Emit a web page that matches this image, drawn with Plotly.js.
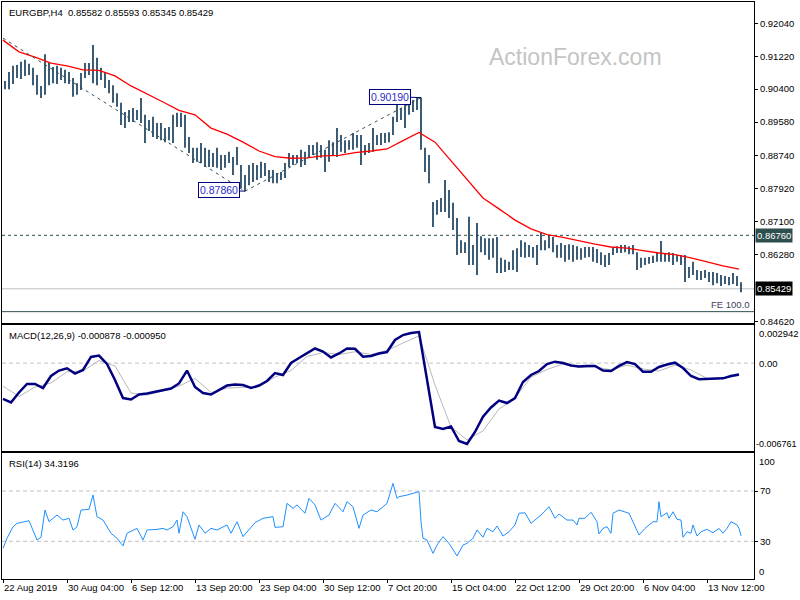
<!DOCTYPE html>
<html><head><meta charset="utf-8">
<script src="https://cdn.plot.ly/plotly-3.0.1.min.js"></script>
<style>html,body{margin:0;padding:0;background:#fff;}#chart{width:800px;height:600px;}</style>
</head><body><div id="chart"></div>
<script>
// ---- time axis (bar index of each label, H4 bars) ----
const timeLabels = ["22 Aug 2019","30 Aug 04:00","6 Sep 12:00","13 Sep 20:00","23 Sep 04:00","30 Sep 12:00","7 Oct 20:00","15 Oct 04:00","22 Oct 12:00","29 Oct 20:00","6 Nov 04:00","13 Nov 12:00"];
const timeLabelBars = [0,32,64,96,128,160,192,224,256,288,320,352];

// ---- price bars (every 2nd H4 bar, starting at bar 1) ----
const BAR_START = 1, BAR_STEP = 2;
const barHighs = [
0.9060,0.9083,0.9098,0.9100,0.9108,0.9113,0.9103,0.9093,0.9075,0.9048,
0.9127,0.9105,0.9095,0.9098,0.9093,0.9088,0.9083,0.9068,0.9055,0.9080,
0.9105,0.9105,0.9150,0.9118,0.9093,0.9083,0.9063,0.9050,0.9030,0.9006,
0.8983,0.8988,0.8993,0.8988,0.9018,0.8976,0.8963,0.8971,0.8956,0.8956,
0.8943,0.8946,0.8976,0.8981,0.8981,0.8976,0.8921,0.8894,0.8894,0.8906,
0.8894,0.8889,0.8881,0.8894,0.8876,0.8876,0.8884,0.8871,0.8896,0.8851,
0.8826,0.8851,0.8856,0.8851,0.8859,0.8856,0.8839,0.8839,0.8831,0.8834,
0.8856,0.8881,0.8876,0.8876,0.8889,0.8884,0.8901,0.8901,0.8908,0.8901,
0.8889,0.8913,0.8908,0.8943,0.8926,0.8913,0.8913,0.8931,0.8926,0.8926,
0.8901,0.8906,0.8943,0.8926,0.8931,0.8931,0.8933,0.8971,0.9006,0.8993,
0.9006,0.9008,0.9013,0.9018,0.9019,0.8894,0.8876,0.8759,0.8764,0.8769,
0.8814,0.8789,0.8757,0.8719,0.8664,0.8659,0.8722,0.8652,0.8707,0.8674,
0.8669,0.8669,0.8669,0.8672,0.8620,0.8615,0.8610,0.8639,0.8644,0.8664,
0.8659,0.8652,0.8647,0.8652,0.8682,0.8664,0.8677,0.8672,0.8652,0.8657,
0.8652,0.8654,0.8652,0.8649,0.8644,0.8647,0.8647,0.8647,0.8642,0.8634,
0.8627,0.8632,0.8647,0.8649,0.8652,0.8652,0.8649,0.8652,0.8634,0.8620,
0.8620,0.8622,0.8625,0.8632,0.8662,0.8632,0.8634,0.8632,0.8627,0.8627,
0.8627,0.8597,0.8610,0.8590,0.8587,0.8590,0.8585,0.8585,0.8582,0.8577,
0.8575,0.8572,0.8582,0.8575,0.85593];
const barLows = [
0.9040,0.9040,0.9053,0.9068,0.9065,0.9073,0.9075,0.9050,0.9026,0.9018,
0.9026,0.9050,0.9055,0.9053,0.9063,0.9055,0.9053,0.9021,0.9026,0.9038,
0.9068,0.9075,0.9055,0.9050,0.9063,0.9043,0.9030,0.9006,0.8996,0.8951,
0.8943,0.8958,0.8958,0.8963,0.8956,0.8906,0.8936,0.8921,0.8916,0.8913,
0.8908,0.8913,0.8906,0.8946,0.8946,0.8894,0.8881,0.8856,0.8859,0.8856,
0.8846,0.8846,0.8846,0.8844,0.8839,0.8844,0.8856,0.8826,0.8851,0.8794,
0.8786,0.8801,0.8809,0.8814,0.8819,0.8824,0.8809,0.8806,0.8806,0.8814,
0.8819,0.8846,0.8851,0.8856,0.8846,0.8851,0.8871,0.8876,0.8864,0.8869,
0.8834,0.8859,0.8876,0.8871,0.8884,0.8881,0.8889,0.8889,0.8894,0.8851,
0.8876,0.8881,0.8884,0.8901,0.8901,0.8906,0.8908,0.8926,0.8958,0.8963,
0.8943,0.8976,0.8983,0.8988,0.8889,0.8834,0.8806,0.8697,0.8727,0.8734,
0.8734,0.8719,0.8689,0.8627,0.8632,0.8632,0.8602,0.8602,0.8577,0.8634,
0.8627,0.8615,0.8620,0.8582,0.8582,0.8585,0.8590,0.8590,0.8585,0.8622,
0.8620,0.8622,0.8620,0.8602,0.8639,0.8639,0.8644,0.8634,0.8620,0.8620,
0.8610,0.8615,0.8610,0.8615,0.8615,0.8620,0.8622,0.8610,0.8607,0.8602,
0.8597,0.8602,0.8627,0.8632,0.8632,0.8634,0.8629,0.8629,0.8590,0.8595,
0.8602,0.8605,0.8607,0.8610,0.8610,0.8610,0.8610,0.8602,0.8610,0.8602,
0.8560,0.8570,0.8577,0.8565,0.8565,0.8570,0.8560,0.8552,0.8557,0.8550,
0.8555,0.8552,0.8555,0.8550,0.85345];

// ---- moving average (every 8 bars) ----
const MA_STEP = 8;
const maValues = [0.9162,0.9133,0.9120,0.9105,0.9098,0.9088,0.9087,0.9073,0.9048,0.9029,
0.9008,0.8987,0.8976,0.8943,0.8928,0.8908,0.8886,0.8872,0.8868,0.8869,
0.8874,0.8875,0.8882,0.8886,0.8891,0.8912,0.8932,0.8908,0.8861,0.8816,
0.8769,0.8742,0.8714,0.8692,0.8678,0.8671,0.8662,0.8654,0.8647,0.8644,
0.8638,0.8632,0.8628,0.8620,0.8610,0.8600,0.8592];

// ---- trend lines and swing labels ----
const trend1Bars = [0,121], trend1Prices = [0.9167,0.8786];
const trend2Bars = [121,209], trend2Prices = [0.8786,0.9019];
const swingBars = [121,209], swingPrices = [0.8786,0.9019], swingText = ["0.87860","0.90190"];
const levelDashed = 0.8676, currentPrice = 0.85429, feLevel = 0.8486;
const priceTicks = [0.92040,0.91220,0.90400,0.89580,0.88740,0.87920,0.87100,0.86280,0.84620];
const priceRange = [0.84585,0.92570];

// ---- MACD (main every 4 bars, signal every 8 bars) ----
const MACD_STEP = 4, SIGNAL_STEP = 8;
const macdMain = [-0.00275,-0.00302,-0.00225,-0.00160,-0.00160,-0.00191,-0.00099,-0.00057,-0.00040,-0.00080,
-0.00053,0.00047,0.00058,-0.00007,-0.00130,-0.00268,-0.00279,-0.00241,-0.00233,-0.00222,
-0.00206,-0.00195,-0.00156,-0.00057,-0.00183,-0.00229,-0.00241,-0.00206,-0.00172,-0.00164,
-0.00168,-0.00191,-0.00172,-0.00137,-0.00076,-0.00091,0.00001,0.00039,0.00074,0.00112,
0.00089,0.00043,0.00074,0.00112,0.00110,0.00049,0.00054,0.00074,0.00085,0.00177,
0.00215,0.00231,0.00238,-0.00130,-0.00490,-0.00505,-0.00486,-0.00597,-0.00620,-0.00528,
-0.00411,-0.00340,-0.00287,-0.00306,-0.00268,-0.00145,-0.00091,-0.00061,-0.00007,0.00011,
0.00001,-0.00018,-0.00026,-0.00022,-0.00022,-0.00057,-0.00061,-0.00022,0.00008,-0.00007,
-0.00066,-0.00066,-0.00030,-0.00011,0.00003,-0.00038,-0.00099,-0.00124,-0.00120,-0.00117,
-0.00117,-0.00099,-0.00088];
const macdSignal = [-0.00176,-0.00256,-0.00183,-0.00153,-0.00066,-0.00061,0.00020,-0.00022,-0.00229,-0.00245,
-0.00214,-0.00176,-0.00118,-0.00225,-0.00191,-0.00185,-0.00181,-0.00107,-0.00057,0.00051,
0.00081,0.00066,0.00087,0.00066,0.00097,0.00154,0.00208,-0.00168,-0.00490,-0.00589,
-0.00520,-0.00352,-0.00268,-0.00107,-0.00049,-0.00007,-0.00032,-0.00028,-0.00053,-0.00015,
-0.00045,-0.00061,-0.00015,-0.00053,-0.00117,-0.00117,-0.00095];
const macdRange = [-0.006761,0.002942];

// ---- RSI(14) ----
const rsiBars = [0,2,5,7,13,17,19,21,23,27,30,33,35,37,39,43,45,47,50,54,57,60,62,65,67,70,72,77,80,82,85,87,88,90,92,96,98,101,104,107,112,114,117,120,122,126,130,135,136,140,142,145,147,151,153,156,159,163,166,170,172,175,178,180,184,187,192,195,197,198,202,205,208,209,210,212,215,217,220,223,227,230,232,235,237,240,242,245,247,250,253,256,258,261,264,267,269,273,276,278,282,285,287,288,291,294,297,298,300,302,304,305,308,313,315,318,321,325,327,328,329,332,333,335,337,339,340,342,344,345,347,349,352,355,358,360,362,364,367,368,369];
const rsiValues = [24.4,32.4,41.6,44.3,46.4,31.0,33.2,54.9,45.6,50.9,46.9,48.3,39.0,41.6,54.9,55.4,66.8,49.6,46.9,36.4,32.4,26.3,36.4,38.4,40.3,31.0,39.0,39.5,40.3,39.0,41.6,46.9,36.4,53.5,49.6,31.6,43.0,36.4,40.3,39.0,43.0,36.4,45.6,33.7,37.6,44.8,48.3,49.6,41.1,41.6,60.2,56.2,58.9,52.3,64.2,58.9,46.9,50.9,60.2,53.5,61.5,57.5,40.3,50.9,54.9,53.5,60.2,76.1,64.2,65.5,66.8,68.2,69.5,45.6,32.4,31.0,20.4,27.0,33.7,28.4,18.3,27.0,28.4,32.4,39.0,33.2,40.3,37.6,42.2,34.2,37.6,43.0,52.3,52.7,44.3,48.3,50.9,57.5,48.3,51.7,46.9,46.9,43.0,48.3,48.3,53.1,45.6,35.8,40.3,41.6,36.4,52.3,54.9,52.3,45.6,35.0,40.3,45.6,45.6,61.5,49.6,52.7,48.3,53.5,47.5,46.9,33.2,37.6,36.4,43.0,34.2,37.6,39.5,36.8,40.3,36.4,40.3,45.6,43.0,40.3,34.32];
const rsiLevels = [70,30];

// ---------------- build ----------------
const F = "Liberation Sans, Arial, sans-serif";
const bx = [], by = [];
barHighs.forEach((h,k)=>{ const i = BAR_START + k*BAR_STEP; bx.push(i,i,null); by.push(barLows[k],h,null); });
const idx = (arr, step) => arr.map((_,j)=>j*step);

const traces = [
  {type:"scatter",mode:"lines",x:bx,y:by,xaxis:"x",yaxis:"y",line:{color:"#1b3f5e",width:1.7},hoverinfo:"skip"},
  {type:"scatter",mode:"lines",x:idx(maValues,MA_STEP),y:maValues,xaxis:"x",yaxis:"y",line:{color:"#ff0000",width:1.3},hoverinfo:"skip"},
  {type:"scatter",mode:"lines",x:trend1Bars,y:trend1Prices,xaxis:"x",yaxis:"y",line:{color:"#2f4f4f",width:1,dash:"3px,4px"},hoverinfo:"skip"},
  {type:"scatter",mode:"lines",x:trend2Bars,y:trend2Prices,xaxis:"x",yaxis:"y",line:{color:"#2f4f4f",width:1,dash:"3px,4px"},hoverinfo:"skip"},
  {type:"scatter",mode:"lines",x:idx(macdSignal,SIGNAL_STEP),y:macdSignal,xaxis:"x2",yaxis:"y2",line:{color:"#b8b8b8",width:1},hoverinfo:"skip"},
  {type:"scatter",mode:"lines",x:idx(macdMain,MACD_STEP),y:macdMain,xaxis:"x2",yaxis:"y2",line:{color:"#000080",width:2.5},hoverinfo:"skip"},
  {type:"scatter",mode:"lines",x:rsiBars,y:rsiValues,xaxis:"x3",yaxis:"y3",line:{color:"#1e90ff",width:1},hoverinfo:"skip"}
];

const xBase = {range:[-0.5,375.5],showline:true,mirror:true,linecolor:"#000",linewidth:1,showgrid:false,zeroline:false,showticklabels:false,ticks:"",fixedrange:true};
const yBase = {side:"right",showline:true,mirror:true,linecolor:"#000",linewidth:1,showgrid:false,zeroline:false,fixedrange:true};

const hline = (yref,y,color,dash)=>({type:"line",xref:"paper",x0:0,x1:1,yref:yref,y0:y,y1:y,layer:"below",line:{color:color,width:1,dash:dash||"solid"}});
const shapes = [
  hline("y",levelDashed,"#2f4f4f","3px,3px"),
  hline("y",currentPrice,"#c0c0c0"),
  hline("y",feLevel,"#2f4f4f"),
  hline("y2",0,"#c0c0c0","4px,3px")
].concat(rsiLevels.map(v=>hline("y3",v,"#c0c0c0","4px,3px")));

const rightLabel = (yref,y,text,anchor,extra)=>Object.assign({xref:"paper",x:1,xanchor:"left",xshift:3,yref:yref,y:y,yanchor:anchor,text:text,showarrow:false,font:{family:F,size:9.5,color:"#000"}},extra||{});
const annotations = [
  {xref:"paper",x:0,xanchor:"left",xshift:5,yref:"y domain",y:1,yanchor:"top",yshift:-3,showarrow:false,text:"EURGBP,H4\u00a0\u00a00.85582 0.85593 0.85345 0.85429",font:{family:F,size:9.5,color:"#000"}},
  {xref:"paper",x:0,xanchor:"left",xshift:5,yref:"y2 domain",y:1,yanchor:"top",yshift:-3,showarrow:false,text:"MACD(12,26,9) -0.000878 -0.000950",font:{family:F,size:9.5,color:"#000"}},
  {xref:"paper",x:0,xanchor:"left",xshift:5,yref:"y3 domain",y:1,yanchor:"top",yshift:-3,showarrow:false,text:"RSI(14) 34.3196",font:{family:F,size:9.5,color:"#000"}},
  {xref:"paper",x:0.762,xanchor:"center",yref:"y domain",y:0.8285,yanchor:"middle",showarrow:false,text:"ActionForex.com",font:{family:F,size:23,color:"#c4c4c4"}},
  {xref:"paper",x:1,xanchor:"right",xshift:-2,yref:"y",y:feLevel,yanchor:"bottom",yshift:0,showarrow:false,text:"FE 100.0",font:{family:F,size:9.5,color:"#40405a"}},
  rightLabel("y",levelDashed,levelDashed.toFixed(5),"middle",{xshift:1,bgcolor:"#2f4f4f",borderpad:1,font:{family:F,size:9.5,color:"#fff"}}),
  rightLabel("y",currentPrice,currentPrice.toFixed(5),"middle",{xshift:1,bgcolor:"#000",borderpad:1,font:{family:F,size:9.5,color:"#fff"}}),
  rightLabel("y2",macdRange[1],macdRange[1].toFixed(6),"top",{yshift:-1}),
  rightLabel("y2",0,"0.00","middle"),
  rightLabel("y2",macdRange[0],macdRange[0].toFixed(6),"bottom",{xshift:0,font:{family:F,size:9,color:"#000"}}),
  rightLabel("y3",100,"100","top",{yshift:-1}),
  rightLabel("y3",0,"0","bottom",{yshift:0})
];
const swingOffsets = [-26,-31];
swingBars.forEach((b,j)=>annotations.push({xref:"x",yref:"y",x:b,y:swingPrices[j],text:swingText[j],showarrow:true,arrowhead:0,arrowwidth:1,arrowcolor:"#000080",standoff:0,ax:swingOffsets[j],ay:-1,bgcolor:"#fff",bordercolor:"#000080",borderwidth:1,borderpad:1,font:{family:F,size:10.5,color:"#2b2bc8"}}));

const layout = {
  width:800,height:600,margin:{l:2,r:46,t:2,b:21,pad:0},
  paper_bgcolor:"#fff",plot_bgcolor:"#fff",showlegend:false,hovermode:false,
  font:{family:F,size:9.5,color:"#000"},
  xaxis:Object.assign({},xBase,{anchor:"y"}),
  xaxis2:Object.assign({},xBase,{anchor:"y2",matches:"x"}),
  xaxis3:Object.assign({},xBase,{anchor:"y3",matches:"x",tickmode:"array",tickvals:timeLabelBars,ticktext:timeLabels,showticklabels:true,ticks:"outside",ticklen:3,tickcolor:"#000",tickangle:0,ticklabelposition:"outside right",tickfont:{family:F,size:9.5,color:"#000"}}),
  yaxis:Object.assign({},yBase,{anchor:"x",domain:[0.4442,1],range:priceRange,tickmode:"array",tickvals:priceTicks,ticktext:priceTicks.map(v=>v.toFixed(5)),ticks:"outside",ticklen:3,tickcolor:"#000",tickfont:{family:F,size:9.5,color:"#000"}}),
  yaxis2:Object.assign({},yBase,{anchor:"x2",domain:[0.2213,0.4407],range:macdRange,showticklabels:false,ticks:""}),
  yaxis3:Object.assign({},yBase,{anchor:"x3",domain:[0,0.2178],range:[0,100],tickmode:"array",tickvals:rsiLevels,ticktext:rsiLevels.map(String),ticks:"outside",ticklen:3,tickcolor:"#000",tickfont:{family:F,size:9.5,color:"#000"}}),
  shapes:shapes,annotations:annotations
};
Plotly.newPlot("chart",traces,layout,{staticPlot:true,displayModeBar:false});
</script></body></html>
